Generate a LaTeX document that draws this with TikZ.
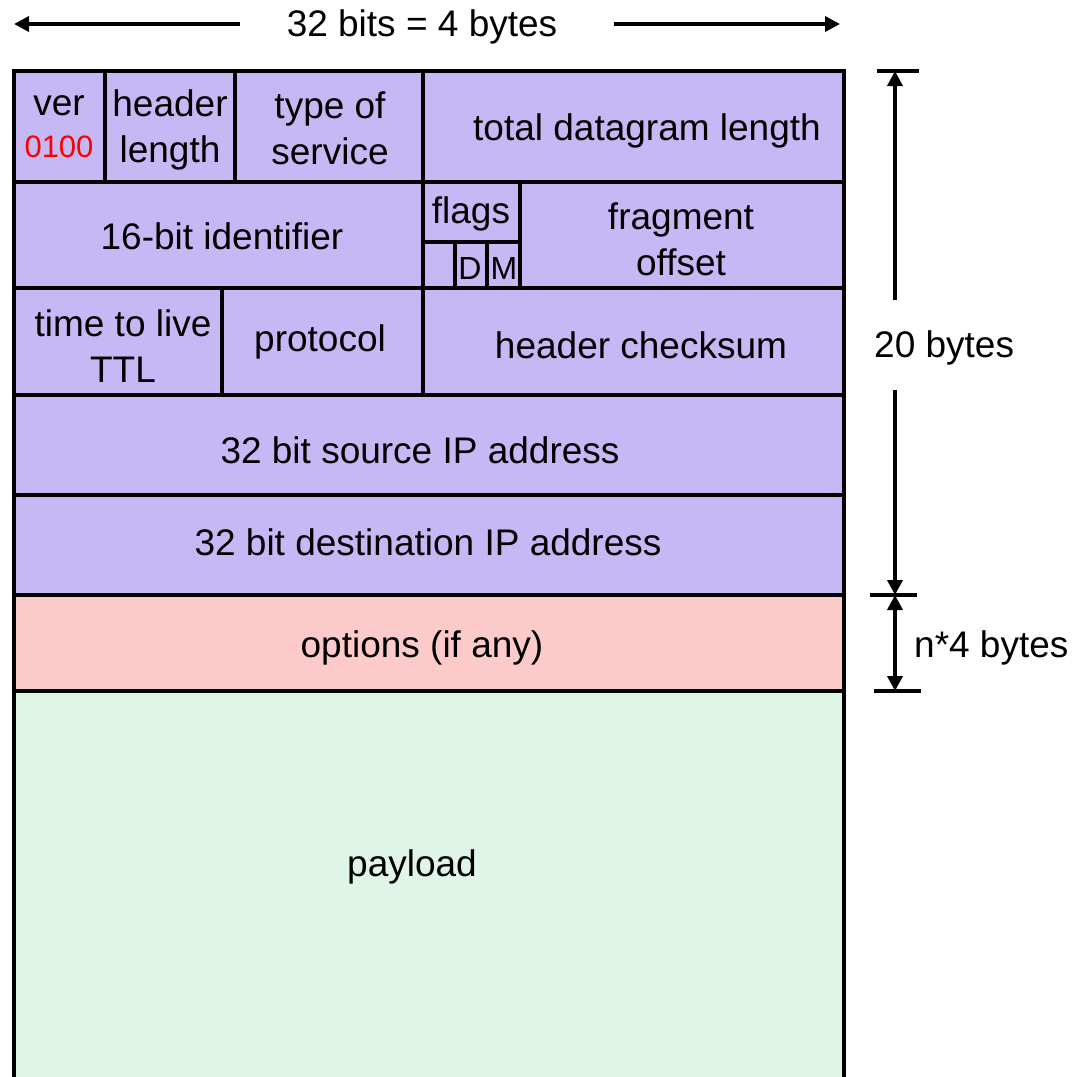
\documentclass[tikz,border=0pt]{standalone}
\usepackage{fontspec}
\setmainfont{Liberation Sans}
\usetikzlibrary{arrows.meta}
\definecolor{hdr}{HTML}{C6B8F5}
\definecolor{opt}{HTML}{FDCACA}
\definecolor{pay}{HTML}{DFF5E7}
\tikzset{
  cell/.style={draw=black, line width=3.2pt, rectangle, inner sep=0pt, outer sep=0pt,
    anchor=north west},
  lbl/.style={font=\fontsize{37}{46}\selectfont, inner sep=0pt, align=center},
  small/.style={font=\fontsize{32}{38}\selectfont, inner sep=0pt},
  dim/.style={line width=3.6pt, -{Triangle[length=15pt,width=15pt]}},
  tick/.style={line width=3.6pt}
}
\begin{document}
\begin{tikzpicture}[x=1pt,y=-1pt]
\useasboundingbox (0,0) rectangle (1075,1077);
\clip (0,0) rectangle (1075,1077);
% row 1
\node[cell,fill=hdr,minimum width=91pt,minimum height=111pt] (ver) at (14,71) {};
\node[cell,fill=hdr,minimum width=130pt,minimum height=111pt] (hlen) at (105,71) {};
\node[cell,fill=hdr,minimum width=188pt,minimum height=111pt] (tos) at (235,71) {};
\node[cell,fill=hdr,minimum width=421pt,minimum height=111pt] (tlen) at (423,71) {};
% row 2
\node[cell,fill=hdr,minimum width=409pt,minimum height=106pt] (ident) at (14,182) {};
\node[cell,fill=hdr,minimum width=97pt,minimum height=60pt] (flags) at (423,182) {};
\node[cell,fill=hdr,minimum width=32pt,minimum height=46pt] (fr) at (423,242) {};
\node[cell,fill=hdr,minimum width=32pt,minimum height=46pt] (fd) at (455,242) {};
\node[cell,fill=hdr,minimum width=33pt,minimum height=46pt] (fm) at (487,242) {};
\node[cell,fill=hdr,minimum width=324pt,minimum height=106pt] (frag) at (520,182) {};
% row 3
\node[cell,fill=hdr,minimum width=208pt,minimum height=107pt] (ttl) at (14,288) {};
\node[cell,fill=hdr,minimum width=201pt,minimum height=107pt] (proto) at (222,288) {};
\node[cell,fill=hdr,minimum width=421pt,minimum height=107pt] (csum) at (423,288) {};
% rows 4-5
\node[cell,fill=hdr,minimum width=830pt,minimum height=100pt] (src) at (14,395) {};
\node[cell,fill=hdr,minimum width=830pt,minimum height=100pt] (dst) at (14,495) {};
% options, payload
\node[cell,fill=opt,minimum width=830pt,minimum height=96pt] (opts) at (14,595) {};
\node[cell,fill=pay,minimum width=830pt,minimum height=420pt] (payload) at (14,691) {};
% texts
\node[lbl] (tver) at (59,106) {ver};
\node[inner sep=0pt, font=\fontsize{31}{38}\selectfont, text=red] (tvern) at (59,147) {0100};
\node[lbl] (thlen) at (170,130) {header\\length};
\node[lbl] (ttos) at (330,128) {type of\\service};
\node[lbl] (ttlen) at (647,131) {total datagram length};
\node[lbl] (tident) at (222,236) {16-bit identifier};
\node[lbl] (tflags) at (471,214) {flags};
\node[small] (tfd) at (470,268) {D};
\node[small] (tfm) at (504,268) {M};
\node[lbl] (tfrag) at (681,239) {fragment\\offset};
\node[lbl] (tttl) at (123,346) {time to live\\TTL};
\node[lbl] (tproto) at (320,342) {protocol};
\node[lbl] (tcsum) at (641,345) {header checksum};
\node[lbl] (tsrc) at (420,450) {32 bit source IP address};
\node[lbl] (tdst) at (428,542) {32 bit destination IP address};
\node[lbl] (topts) at (422,648) {options (if any)};
\node[lbl] (tpay) at (412,867) {payload};
% top width arrows
\node[lbl] (width) at (422,27) {32 bits = 4 bytes};
\coordinate (wl) at (240,24);
\coordinate (wle) at (14,24);
\coordinate (wr) at (614,24);
\coordinate (wre) at (840,24);
\draw[dim] (wl) -- (wle);
\draw[dim] (wr) -- (wre);
% right dimension arrows
\coordinate (t1a) at (877,71);  \coordinate (t1b) at (919,71);
\coordinate (t2a) at (870,595); \coordinate (t2b) at (917,595);
\coordinate (t3a) at (874,691); \coordinate (t3b) at (921,691);
\draw[tick] (t1a) -- (t1b);
\draw[tick] (t2a) -- (t2b);
\draw[tick] (t3a) -- (t3b);
\coordinate (a1s) at (895,300); \coordinate (a1e) at (895,71);
\coordinate (a2s) at (895,390); \coordinate (a2e) at (895,595);
\coordinate (a3s) at (895,595); \coordinate (a3e) at (895,691);
\draw[dim] (a1s) -- (a1e);
\draw[dim] (a2s) -- (a2e);
\draw[line width=3.6pt, {Triangle[length=15pt,width=15pt]}-{Triangle[length=15pt,width=15pt]}] (a3s) -- (a3e);
\node[lbl,anchor=west] (b20) at (874,348) {20 bytes};
\node[lbl,anchor=west] (bn4) at (914,648) {n*4 bytes};
\end{tikzpicture}
\end{document}
